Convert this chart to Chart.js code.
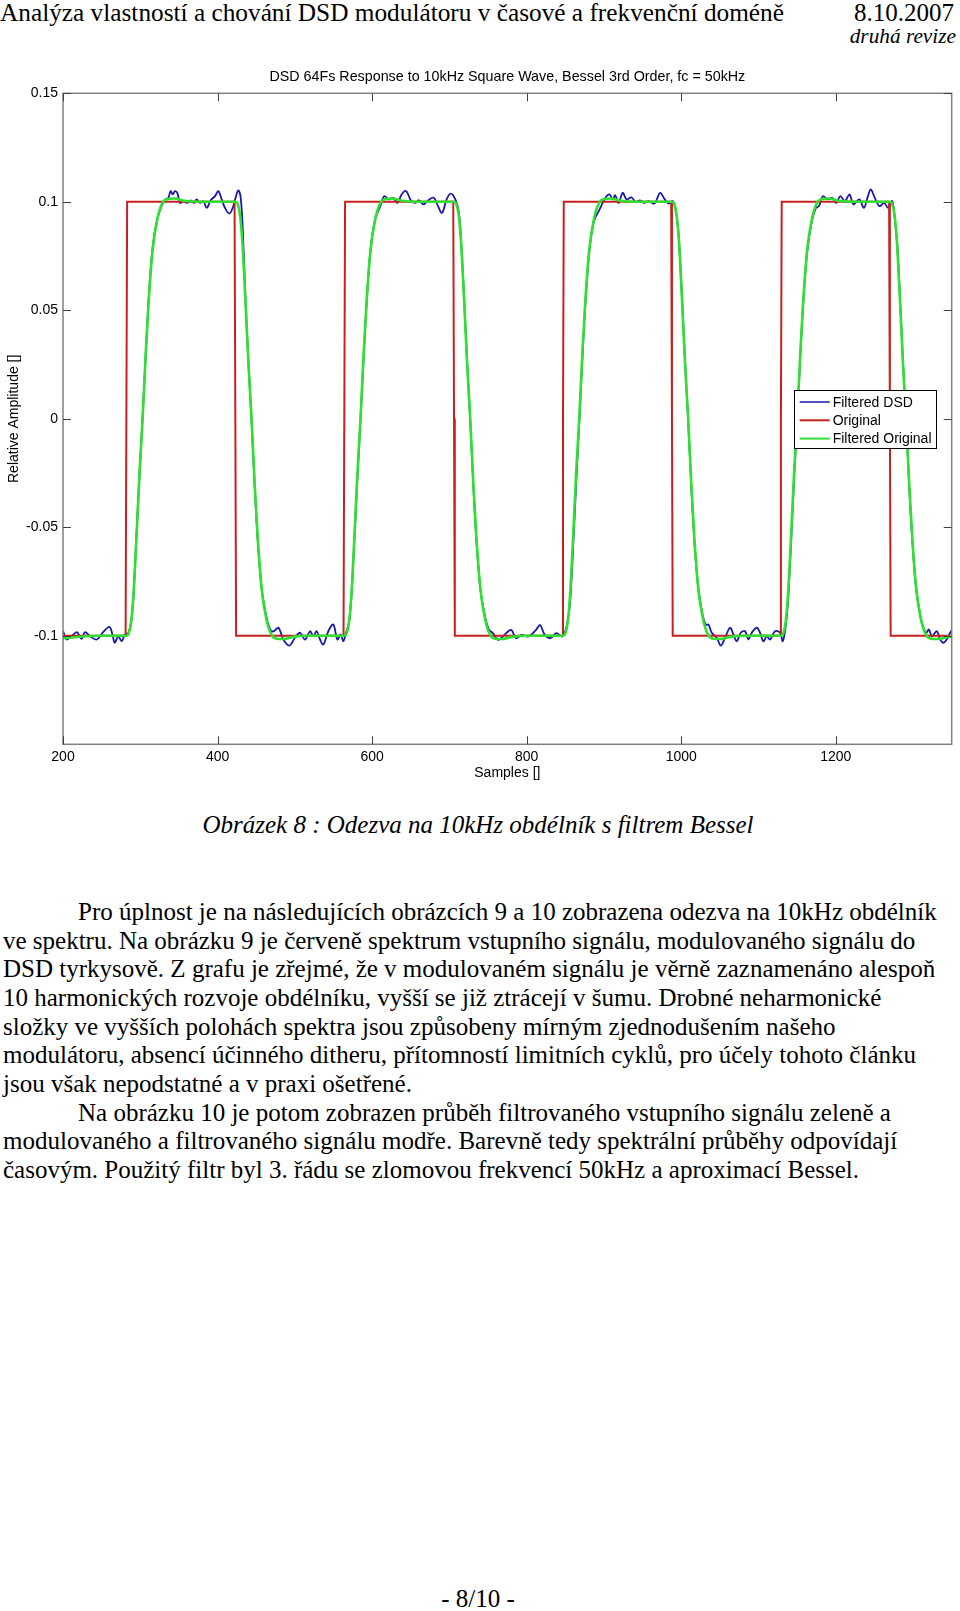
<!DOCTYPE html>
<html>
<head>
<meta charset="utf-8">
<script src="https://cdn.jsdelivr.net/npm/chart.js@4.4.0/dist/chart.umd.min.js"></script>
<style>
body { margin:0; background:#fff; width:960px; height:1611px; position:relative; overflow:hidden;
  font-family:"Liberation Serif","Times New Roman",serif; color:#000; }
.t { position:absolute; white-space:nowrap; font-size:25px; line-height:25px; }
.i { font-style:italic; }
#chartBox { position:absolute; left:0; top:60px; width:960px; height:730px; }
</style>
</head>
<body>
<div class="t" style="left:0;top:0;font-size:25.3px">Analýza vlastností a chování DSD modulátoru v časové a frekvenční doméně</div>
<div class="t" style="right:6px;top:0">8.10.2007</div>
<div class="t i" style="right:4px;top:24px;font-size:21.3px">druhá revize</div>

<div id="chartBox"><canvas id="mycanvas"></canvas></div>

<div class="t i" style="left:0;width:956px;text-align:center;top:812px">Obrázek 8 : Odezva na 10kHz obdélník s filtrem Bessel</div>

<div class="t" style="left:78px;top:899px">Pro úplnost je na následujících obrázcích 9 a 10 zobrazena odezva na 10kHz obdélník</div>
<div class="t" style="left:3px;top:928px">ve spektru. Na obrázku 9 je červeně spektrum vstupního signálu, modulovaného signálu do</div>
<div class="t" style="left:3px;top:956px">DSD tyrkysově. Z grafu je zřejmé, že v modulovaném signálu je věrně zaznamenáno alespoň</div>
<div class="t" style="left:3px;top:985px">10 harmonických rozvoje obdélníku, vyšší se již ztrácejí v šumu. Drobné neharmonické</div>
<div class="t" style="left:3px;top:1014px">složky ve vyšších polohách spektra jsou způsobeny mírným zjednodušením našeho</div>
<div class="t" style="left:3px;top:1042px">modulátoru, absencí účinného ditheru, přítomností limitních cyklů, pro účely tohoto článku</div>
<div class="t" style="left:3px;top:1071px">jsou však nepodstatné a v praxi ošetřené.</div>
<div class="t" style="left:78px;top:1100px">Na obrázku 10 je potom zobrazen průběh filtrovaného vstupního signálu zeleně a</div>
<div class="t" style="left:3px;top:1128px">modulovaného a filtrovaného signálu modře. Barevně tedy spektrální průběhy odpovídají</div>
<div class="t" style="left:3px;top:1157px">časovým. Použitý filtr byl 3. řádu se zlomovou frekvencí 50kHz a aproximací Bessel.</div>

<div class="t" style="left:0;width:956px;text-align:center;top:1586px">- 8/10 -</div>

<script>
var chartTitle = 'DSD 64Fs Response to 10kHz Square Wave, Bessel 3rd Order, fc = 50kHz';
var xTicks = [200, 400, 600, 800, 1000, 1200];
var yTicks = [-0.1, -0.05, 0, 0.05, 0.1, 0.15];
var yTickLabels = ['-0.1', '-0.05', '0', '0.05', '0.1', '0.15'];
var seriesNames = ['Filtered DSD', 'Original', 'Filtered Original'];
var seriesColors = ['#1a1aa8', '#c8201e', '#30e030'];

// [sample, amplitude]
var original = [
	[200,-0.1],[281,-0.1],[282,0],[283,0.1],[422,0.1],[423,0],[424,-0.1],
	[563,-0.1],[564,0],[565,0.1],[705,0.1],[706,0],[707,-0.1],
	[846,-0.1],[847,0],[848,0.1],[987,0.1],[988,0],[989,-0.1],
	[1128,-0.1],[1129,0],[1130,0.1],[1269,0.1],[1270,0],[1271,-0.1],[1350,-0.1]
];

var filteredOriginal = [
	[200,-0.1012],[212,-0.1008],[230,-0.1002],[250,-0.1],[282,-0.1],
	[285,-0.099],[288,-0.094],[291,-0.082],[295,-0.055],[299,-0.025],[303,0],[307,0.03],[311,0.055],[316,0.078],[322,0.092],[328,0.099],[334,0.1012],[344,0.1015],[357,0.1005],[377,0.1],[423,0.1],
	[426,0.099],[429,0.094],[432,0.082],[436,0.055],[440,0.025],[444,0],[448,-0.03],[452,-0.055],[457,-0.078],[463,-0.092],[469,-0.099],[475,-0.1012],[485,-0.1015],[498,-0.1005],[518,-0.1],[564,-0.1],
	[567,-0.099],[570,-0.094],[573,-0.082],[577,-0.055],[581,-0.025],[585,0],[589,0.03],[593,0.055],[598,0.078],[604,0.092],[610,0.099],[616,0.1012],[626,0.1015],[639,0.1005],[659,0.1],[706,0.1],
	[709,0.099],[712,0.094],[715,0.082],[719,0.055],[723,0.025],[727,0],[731,-0.03],[735,-0.055],[740,-0.078],[746,-0.092],[752,-0.099],[758,-0.1012],[768,-0.1015],[781,-0.1005],[801,-0.1],[847,-0.1],
	[850,-0.099],[853,-0.094],[856,-0.082],[860,-0.055],[864,-0.025],[868,0],[872,0.03],[876,0.055],[881,0.078],[887,0.092],[893,0.099],[899,0.1012],[909,0.1015],[922,0.1005],[942,0.1],[988,0.1],
	[991,0.099],[994,0.094],[997,0.082],[1001,0.055],[1005,0.025],[1009,0],[1013,-0.03],[1017,-0.055],[1022,-0.078],[1028,-0.092],[1034,-0.099],[1040,-0.1012],[1050,-0.1015],[1063,-0.1005],[1083,-0.1],[1129,-0.1],
	[1132,-0.099],[1135,-0.094],[1138,-0.082],[1142,-0.055],[1146,-0.025],[1150,0],[1154,0.03],[1158,0.055],[1163,0.078],[1169,0.092],[1175,0.099],[1181,0.1012],[1191,0.1015],[1204,0.1005],[1224,0.1],[1270,0.1],
	[1273,0.099],[1276,0.094],[1279,0.082],[1283,0.055],[1287,0.025],[1291,0],[1295,-0.03],[1299,-0.055],[1304,-0.078],[1310,-0.092],[1316,-0.099],[1322,-0.1012],[1332,-0.1015],[1345,-0.1005],[1350,-0.1003]
];

var filteredDsd = [
	[200,-0.0979],[205,-0.1017],[211,-0.1002],[218,-0.0983],[224,-0.1014],[228.5,-0.0983],[235,-0.1002],[243.6,-0.1017],[252,-0.0983],[260,-0.0959],[264,-0.0994],[267,-0.1032],[271.6,-0.1002],[276,-0.1025],[280,-0.0994],[284,-0.099],
	[288,-0.094],[291,-0.083],[295,-0.054],[299,-0.026],[303,0.001],[307,0.029],[311,0.056],[316,0.079],[322,0.092],[328,0.0985],[333,0.1012],
	[336.3,0.1018],[339.3,0.1049],[342,0.1034],[344.9,0.1049],[347.9,0.1041],[351.4,0.0995],[355.7,0.1003],[360.9,0.0995],[365.3,0.1007],[369.5,0.0995],[373,0.1011],[377.3,0.0995],[381.6,0.1003],[386,0.0972],[391.1,0.1007],[396.7,0.1026],[401,0.1049],[405.4,0.1011],[409.6,0.0972],[415.2,0.0946],[419.6,0.0972],[423.9,0.1026],[426.9,0.1053],[430,0.1018],
	[433,0.084],[436,0.056],[440,0.026],[444,-0.001],[448,-0.031],[452,-0.056],[457,-0.078],[463,-0.091],[468,-0.097],
	[472.2,-0.098],[478.7,-0.0963],[485.1,-0.1017],[492.9,-0.1045],[500.2,-0.1009],[506.7,-0.0986],[513.2,-0.1017],[519.7,-0.0979],[523.9,-0.1002],[528.3,-0.0979],[532.6,-0.1017],[536.9,-0.104],[543.3,-0.0979],[549.8,-0.0948],[555,-0.1017],[559.4,-0.0994],[562.8,-0.1025],[566.2,-0.0986],
	[570,-0.094],[573,-0.083],[577,-0.056],[581,-0.027],[585,0],[589,0.028],[593,0.054],[598,0.078],[604,0.092],[610.6,0.098],
	[615.8,0.1026],[621.8,0.1011],[627.1,0.1018],[633,0.0995],[638.2,0.1034],[644.2,0.1049],[650.1,0.1007],[655.4,0.0995],[660.6,0.1007],[666.5,0.0988],[674,0.1011],[680,0.1018],[685.3,0.098],[690.5,0.0949],[696.4,0.1011],[701.6,0.1038],[707.7,0.1011],[712,0.0955],
	[715,0.083],[719,0.056],[723,0.026],[727,-0.001],[731,-0.031],[735,-0.056],[740,-0.078],[746,-0.091],[751,-0.097],
	[756.2,-0.0988],[763.6,-0.1019],[771.1,-0.0996],[780,-0.0973],[786.1,-0.1011],[793.5,-0.0996],[802.4,-0.1003],[812.1,-0.0973],[817.4,-0.095],[823.4,-0.0996],[830.9,-0.1011],[838.3,-0.0988],[845.8,-0.1003],[851.7,-0.0957],
	[856,-0.085],[860,-0.06],[864,-0.03],[868,-0.002],[872,0.027],[876,0.053],[881,0.077],[887,0.091],
	[894.4,0.0965],[901.8,0.1018],[907,0.1034],[911.5,0.1011],[914.5,0.103],[919,0.0995],[924.2,0.1041],[929.4,0.1011],[935.5,0.102],[941.4,0.0998],[946.6,0.1007],[951.9,0.0995],[957.8,0.1003],[965.3,0.0992],[972.7,0.1041],[978.7,0.1011],[984,0.0992],[989.2,0.1003],[993.5,0.095],
	[997,0.083],[1001,0.056],[1005,0.026],[1009,-0.001],[1013,-0.031],[1017,-0.056],[1022,-0.078],[1028,-0.091],[1032,-0.095],
	[1035.2,-0.0948],[1039.5,-0.0986],[1046,-0.1009],[1051.2,-0.1045],[1056.7,-0.1009],[1063.2,-0.0963],[1067.5,-0.0994],[1071.9,-0.1025],[1077,-0.0986],[1082.6,-0.0979],[1086.9,-0.1017],[1091.3,-0.0986],[1097.8,-0.0963],[1102,-0.0986],[1106.3,-0.1025],[1110.7,-0.1002],[1115,-0.1017],[1121.4,-0.0979],[1127.9,-0.0986],[1131.4,-0.1025],
	[1135,-0.096],[1138,-0.085],[1142,-0.058],[1146,-0.028],[1150,-0.001],[1154,0.028],[1158,0.054],[1163,0.077],[1169,0.091],[1174,0.097],
	[1178.2,0.098],[1183.4,0.1026],[1189.4,0.1011],[1195.3,0.1018],[1200.5,0.0995],[1205.8,0.1026],[1211.8,0.1003],[1217.7,0.1034],[1222.9,0.0988],[1230.4,0.1011],[1236.4,0.0972],[1241.6,0.1026],[1245.3,0.1057],[1250.5,0.1018],[1256.6,0.098],[1262.5,0.0995],[1267.7,0.0972],[1273,0.1003],
	[1277,0.09],[1280,0.078],[1283,0.056],[1287,0.026],[1291,-0.001],[1295,-0.031],[1299,-0.056],[1304,-0.078],[1310,-0.092],[1314,-0.097],
	[1317,-0.0986],[1320.5,-0.0971],[1324.2,-0.1002],[1330.7,-0.0979],[1335,-0.1017],[1339.3,-0.1032],[1343.6,-0.1017],[1347.9,-0.0986],[1350,-0.0975]
];

function toPoints(arr) {
	return arr.map(function(p) { return {x: p[0], y: p[1]}; });
}

var axisFont = {family: '"Liberation Sans", Arial, sans-serif', size: 14, weight: 'normal'};

// matlab style box, inward ticks, title over the axes and legend inside
var framePlugin = {
	id: 'frame',
	afterDatasetsDraw: function(chart) {
		var a = chart.chartArea;
		var ctx = chart.ctx;
		var xs = chart.scales.x, ys = chart.scales.y;
		ctx.save();
		ctx.strokeStyle = '#808080';
		ctx.lineWidth = 1.5;
		ctx.strokeRect(a.left, a.top, a.right - a.left, a.bottom - a.top);

		ctx.strokeStyle = '#404040';
		ctx.lineWidth = 1;
		ctx.beginPath();
		xTicks.forEach(function(v) {
			var px = Math.round(xs.getPixelForValue(v)) + 0.5;
			ctx.moveTo(px, a.bottom); ctx.lineTo(px, a.bottom - 8);
			ctx.moveTo(px, a.top); ctx.lineTo(px, a.top + 8);
		});
		yTicks.forEach(function(v) {
			var py = Math.round(ys.getPixelForValue(v)) + 0.5;
			ctx.moveTo(a.left, py); ctx.lineTo(a.left + 8, py);
			ctx.moveTo(a.right, py); ctx.lineTo(a.right - 8, py);
		});
		ctx.stroke();

		// title
		ctx.fillStyle = '#000';
		ctx.font = '14.3px "Liberation Sans", Arial, sans-serif';
		ctx.textAlign = 'center';
		ctx.textBaseline = 'middle';
		ctx.fillText(chartTitle, (a.left + a.right) / 2, a.top - 16.6);

		// legend
		var w = 142, h = 58;
		var lx = a.right - 16 - w, ly = a.top + 297;
		ctx.fillStyle = '#fff';
		ctx.fillRect(lx, ly, w, h);
		ctx.strokeStyle = '#000';
		ctx.lineWidth = 1;
		ctx.strokeRect(Math.round(lx) + 0.5, Math.round(ly) + 0.5, w, h);
		ctx.font = '14px "Liberation Sans", Arial, sans-serif';
		ctx.textAlign = 'left';
		chart.data.datasets.forEach(function(ds, i) {
			var ry = ly + 11.7 + i * 18.3;
			ctx.strokeStyle = ds.borderColor;
			ctx.lineWidth = i == 0 ? 1.5 : 2;
			ctx.beginPath();
			ctx.moveTo(lx + 6, ry); ctx.lineTo(lx + 36, ry);
			ctx.stroke();
			ctx.fillStyle = '#000';
			ctx.fillText(ds.label, lx + 39, ry + 1);
		});
		ctx.restore();
	}
};

var chartdata = {
	datasets: [
		{
			label: seriesNames[0],
			data: toPoints(filteredDsd),
			borderColor: seriesColors[0],
			borderWidth: 1.8,
			tension: 0.35,
			pointRadius: 0,
			order: 3
		},
		{
			label: seriesNames[1],
			data: toPoints(original),
			borderColor: seriesColors[1],
			borderWidth: 2,
			tension: 0,
			pointRadius: 0,
			order: 2
		},
		{
			label: seriesNames[2],
			data: toPoints(filteredOriginal),
			borderColor: seriesColors[2],
			borderWidth: 2.6,
			cubicInterpolationMode: 'monotone',
			pointRadius: 0,
			order: 1
		}
	]
};

var ctx = document.getElementById('mycanvas');

var lineGraph = new Chart(ctx, {
	type: 'line',
	data: chartdata,
	plugins: [framePlugin],
	options: {
		responsive: true,
		maintainAspectRatio: false,
		animation: false,
		events: [],
		layout: {padding: {left: 0, right: 8.3, top: 33.3, bottom: 0}},
		plugins: {
			legend: {display: false},
			tooltip: {enabled: false},
			title: {display: false}
		},
		scales: {
			x: {
				type: 'linear',
				min: 200,
				max: 1350,
				grid: {display: false, drawTicks: false},
				border: {display: false},
				ticks: {color: '#000', font: axisFont, padding: 4, maxRotation: 0,
					callback: function(v) { return String(v); }},
				title: {display: true, text: 'Samples []', color: '#000', font: axisFont,
					padding: {top: 0, bottom: 8.6}},
				afterBuildTicks: function(s) { s.ticks = xTicks.map(function(v) { return {value: v}; }); },
				afterFit: function(s) { s.height = 45.7; }
			},
			y: {
				type: 'linear',
				min: -0.15,
				max: 0.15,
				grid: {display: false, drawTicks: false},
				border: {display: false},
				ticks: {color: '#000', font: axisFont, padding: 5,
					callback: function(v, i) { return yTickLabels[i]; }},
				title: {display: true, text: 'Relative Amplitude []', color: '#000', font: axisFont,
					padding: {top: 6, bottom: 0}},
				afterBuildTicks: function(s) { s.ticks = yTicks.map(function(v) { return {value: v}; }); },
				afterFit: function(s) { s.width = 63; }
			}
		}
	}
});
</script>
</body>
</html>
